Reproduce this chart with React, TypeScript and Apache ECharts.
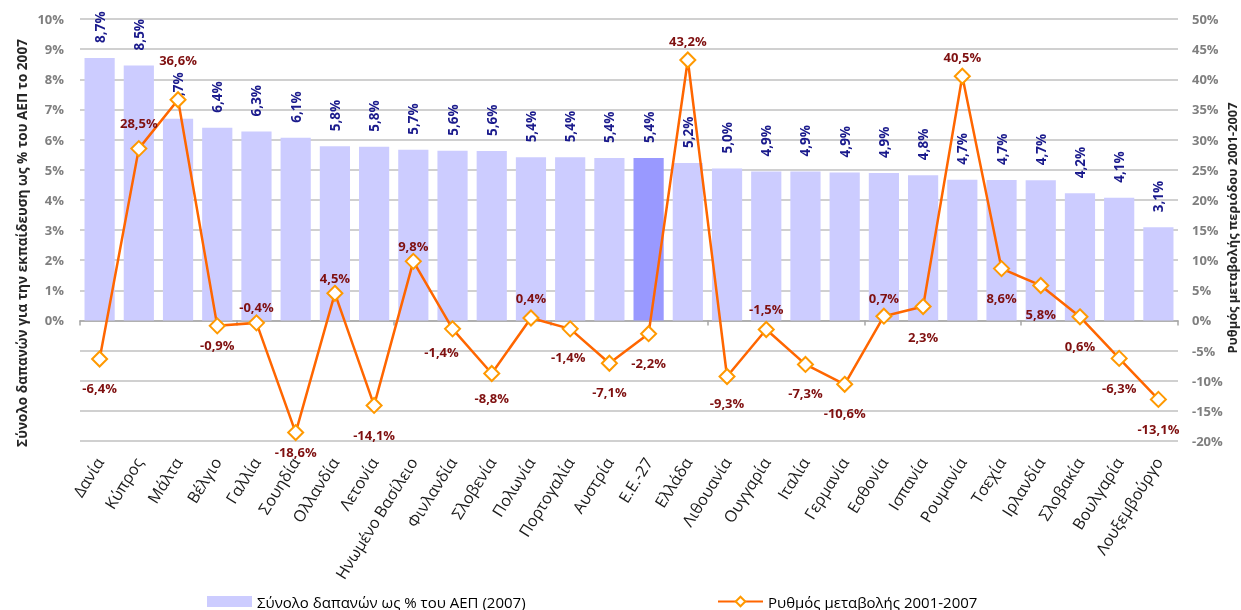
import React, { useEffect, useRef } from "react";
import * as echarts from "echarts";

const categories = [
  "Δανία", "Κύπρος", "Μάλτα", "Βέλγιο", "Γαλλία", "Σουηδία", "Ολλανδία", "Λετονία",
  "Ηνωμένο Βασίλειο", "Φινλανδία", "Σλοβενία", "Πολωνία", "Πορτογαλία", "Αυστρία",
  "Ε.Ε.-27", "Ελλάδα", "Λιθουανία", "Ουγγαρία", "Ιταλία", "Γερμανία", "Εσθονία",
  "Ισπανία", "Ρουμανία", "Τσεχία", "Ιρλανδία", "Σλοβακία", "Βουλγαρία", "Λουξεμβούργο",
];

const spending2007 = [
  8.71, 8.46, 6.69, 6.39, 6.27, 6.06, 5.78, 5.76, 5.66, 5.63, 5.62, 5.41, 5.41, 5.39,
  5.39, 5.22, 5.04, 4.94, 4.94, 4.91, 4.89, 4.82, 4.67, 4.66, 4.65, 4.22, 4.07, 3.09,
];

const change2001_2007 = [
  -6.4, 28.5, 36.6, -0.9, -0.4, -18.6, 4.5, -14.1, 9.8, -1.4, -8.8, 0.4, -1.4, -7.1,
  -2.2, 43.2, -9.3, -1.5, -7.3, -10.6, 0.7, 2.3, 40.5, 8.6, 5.8, 0.6, -6.3, -13.1,
];

const leftTicks = { min: -4, max: 10, interval: 1 };
const rightTicks = { min: -20, max: 50, interval: 5 };

const leftTitle = "Σύνολο δαπανών για την εκπαίδευση ως % του ΑΕΠ το 2007";
const rightTitle = "Ρυθμός μεταβολής περιόδου 2001-2007";
const barName = "Σύνολο δαπανών ως % του ΑΕΠ (2007)";
const lineName = "Ρυθμός μεταβολής 2001-2007";

// label placement for the line labels (vertical / horizontal shift from the marker)
const lineLabelDy = [
  29, -26, -40, 19, -16, 19, -15, 30, -15, 23, 25, -20, 28, 29,
  29, -19, 27, -20, 29, 29, -18, 30, -19, 29, 29, 29, 30, 30,
];
const lineLabelDx = [
  0, 0, 0, 0, 0, 0, 0, 0, 0, -11, 0, 0, -2, 0,
  0, 0, 0, 0, 0, 0, 0, 0, 0, 0, 0, 0, 0, 0,
];

const EU_INDEX = categories.indexOf("Ε.Ε.-27");
const FONT = "'Open Sans', 'Noto Sans', sans-serif";
const fmt = (v: number) => v.toFixed(1).replace(".", ",") + "%";

export default function App() {
  const ref = useRef<HTMLDivElement>(null);

  useEffect(() => {
    document.body.style.margin = "0";
    document.body.style.overflow = "hidden";
    if (!ref.current) return;
    const chart = echarts.init(ref.current, undefined, {
      renderer: "svg",
      width: 1241,
      height: 610,
    });

    const barData = spending2007.map((v, i) => ({
      value: v,
      itemStyle: { color: i === EU_INDEX ? "#9999FF" : "#CCCCFF" },
    }));

    const lineData = change2001_2007.map((v, i) => ({
      value: v,
      label: {
        show: true,
        position: "inside",
        offset: [lineLabelDx[i], lineLabelDy[i]],
      },
    }));

    const axisLabelStyle = {
      color: "#7f7f7f",
      fontWeight: "bold" as const,
      fontSize: 13,
      fontFamily: FONT,
    };

    chart.setOption({
      animation: false,
      textStyle: { fontFamily: FONT },
      grid: { left: 80, right: 63, top: 19, bottom: 169, containLabel: false },
      graphic: [
        {
          type: "text",
          x: 21,
          y: 243,
          rotation: Math.PI / 2,
          style: {
            text: leftTitle,
            align: "center",
            verticalAlign: "middle",
            fill: "#262626",
            font: `bold 13.6px ${FONT}`,
          },
        },
        {
          type: "text",
          x: 1232,
          y: 228,
          rotation: Math.PI / 2,
          style: {
            text: rightTitle,
            align: "center",
            verticalAlign: "middle",
            fill: "#262626",
            font: `bold 12.8px ${FONT}`,
          },
        },
      ],
      legend: [
        {
          left: 202,
          top: 589,
          itemWidth: 45,
          itemHeight: 11,
          itemGap: 6,
          data: [{ name: barName, icon: "rect" }],
          textStyle: { fontSize: 15, color: "#000", fontFamily: FONT },
        },
        {
          left: 712,
          top: 589,
          itemWidth: 45,
          itemHeight: 12,
          data: [lineName],
          textStyle: { fontSize: 15, color: "#000", fontFamily: FONT },
        },
      ],
      xAxis: [
        {
          type: "category",
          data: categories,
          position: "top",
          axisLine: {
            show: true,
            onZero: true,
            onZeroAxisIndex: 0,
            lineStyle: { color: "#a6a6a6", width: 1.5 },
          },
          axisTick: { show: true, inside: true, length: 5, lineStyle: { color: "#a6a6a6", width: 1.5 } },
          axisLabel: { show: false },
          splitLine: { show: false },
        },
        {
          type: "category",
          data: categories,
          position: "bottom",
          axisLine: { show: false, onZero: false },
          axisTick: { show: false },
          axisLabel: {
            show: true,
            rotate: 58,
            margin: 18,
            interval: 0,
            color: "#1a1a1a",
            fontSize: 16,
            fontFamily: FONT,
          },
          splitLine: { show: false },
        },
      ],
      yAxis: [
        {
          type: "value",
          min: leftTicks.min,
          max: leftTicks.max,
          interval: leftTicks.interval,
          axisLine: { show: false },
          axisTick: { show: false },
          axisLabel: {
            ...axisLabelStyle,
            margin: 16,
            formatter: (v: number) => (v < 0 ? "" : v + "%"),
          },
          splitLine: { show: true, lineStyle: { color: "#c0c0c0", width: 1.5 } },
        },
        {
          type: "value",
          min: rightTicks.min,
          max: rightTicks.max,
          interval: rightTicks.interval,
          position: "right",
          axisLine: { show: false },
          axisTick: { show: false },
          axisLabel: {
            ...axisLabelStyle,
            margin: 14,
            formatter: (v: number) => v + "%",
          },
          splitLine: { show: false },
        },
      ],
      series: [
        {
          name: barName,
          type: "bar",
          xAxisIndex: 0,
          yAxisIndex: 0,
          barWidth: "77%",
          data: barData,
          itemStyle: { color: "#CCCCFF" },
          label: {
            show: true,
            position: "top",
            rotate: 90,
            align: "left",
            verticalAlign: "middle",
            distance: 15,
            color: "#1a1a8c",
            fontWeight: "bold",
            fontSize: 13.5,
            fontFamily: FONT,
            formatter: (p: any) => fmt(p.value),
          },
        },
        {
          name: lineName,
          type: "line",
          xAxisIndex: 0,
          yAxisIndex: 1,
          data: lineData,
          symbol: "diamond",
          symbolSize: 15,
          lineStyle: { color: "#FF6600", width: 2.5 },
          itemStyle: { color: "#ffffff", borderColor: "#FF9900", borderWidth: 2 },
          label: {
            show: true,
            color: "#7f1010",
            fontWeight: "bold",
            fontSize: 13,
            fontFamily: FONT,
            formatter: (p: any) => fmt(p.value),
          },
          z: 5,
        },
      ],
    });

    return () => chart.dispose();
  }, []);

  return (
    <div
      ref={ref}
      style={{ width: 1241, height: 610, position: "fixed", left: 0, top: 0 }}
    />
  );
}
